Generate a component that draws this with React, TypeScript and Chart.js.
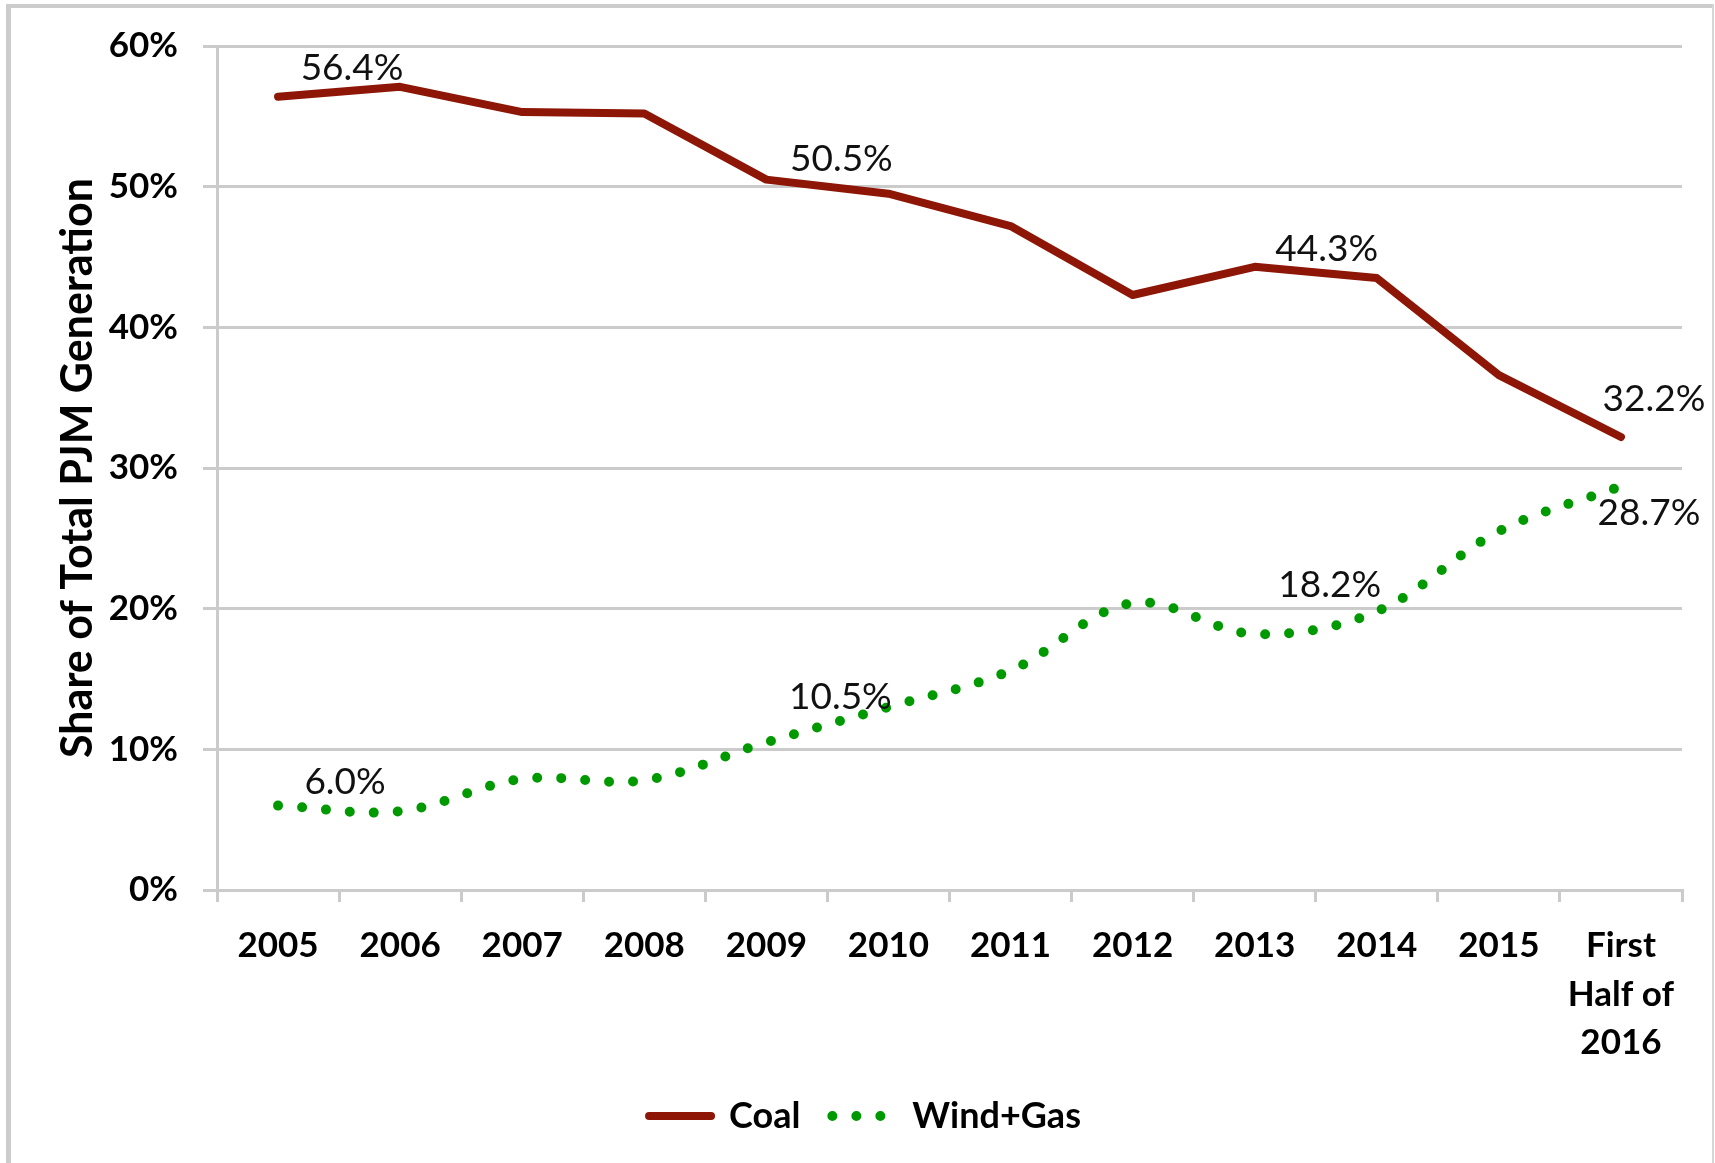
import React, { useEffect, useRef } from 'react';
import { Chart, registerables } from 'chart.js';

Chart.register(...registerables);

// ---- Data ----
const categories: (string | string[])[] = [
  '2005', '2006', '2007', '2008', '2009', '2010', '2011', '2012', '2013', '2014', '2015',
  ['First', 'Half of', '2016'],
];
const coalShare = [56.4, 57.1, 55.3, 55.2, 50.5, 49.5, 47.2, 42.3, 44.3, 43.5, 36.6, 32.2];
const windGasShare = [6.0, 5.6, 7.9, 7.8, 10.5, 13.0, 15.6, 20.4, 18.2, 19.8, 25.5, 28.7];
const yTickValues = [0, 10, 20, 30, 40, 50, 60];
const seriesNames = ['Coal', 'Wind+Gas'];
const axisTitle = 'Share of Total PJM Generation';

// ---- Styles ----
const FONT = 'Lato, "Open Sans", sans-serif';
const GRID = '#cbcbcb';
const COAL = '#8e1606';
const GREEN = '#009a00';

// label placement (pixel offsets from the point), per dataset
const labelPlacement = [
  [
    { i: 0, dx: 74, dy: -29 },
    { i: 4, dx: 75, dy: -21 },
    { i: 8, dx: 72, dy: -18 },
    { i: 11, dx: 33, dy: -38 },
  ],
  [
    { i: 0, dx: 67, dy: -24 },
    { i: 4, dx: 74, dy: -45 },
    { i: 8, dx: 75, dy: -49 },
    { i: 11, dx: 28, dy: 27 },
  ],
];

const framePlugin = {
  id: 'frame',
  beforeDraw(chart: any) {
    const { ctx, width, height } = chart;
    ctx.save();
    ctx.fillStyle = '#ffffff';
    ctx.fillRect(0, 0, width, height);
    ctx.fillStyle = '#cccccc';
    ctx.fillRect(6, 4, 5, height - 4);
    ctx.fillRect(6, 4, width - 7, 4);
    ctx.fillStyle = '#d6d6d6';
    ctx.fillRect(width - 3, 4, 2, height - 4);
    ctx.restore();
  },
};

// centre the legend on the whole canvas rather than the padded box
const legendShiftPlugin = {
  id: 'legendShift',
  afterLayout(chart: any) {
    const lg = chart.legend;
    if (lg) {
      lg.left += 24;
      lg.right += 24;
    }
  },
};

const valueLabelPlugin = {
  id: 'valueLabels',
  afterDatasetsDraw(chart: any) {
    const { ctx } = chart;
    ctx.save();
    ctx.font = `normal 37px ${FONT}`;
    ctx.fillStyle = '#111';
    ctx.textAlign = 'center';
    ctx.textBaseline = 'middle';
    chart.data.datasets.forEach((ds: any, di: number) => {
      const meta = chart.getDatasetMeta(di);
      (labelPlacement[di] || []).forEach((p) => {
        const pt = meta.data[p.i];
        if (!pt) return;
        const v = ds.data[p.i] as number;
        ctx.fillText(`${v.toFixed(1)}%`, pt.x + p.dx, pt.y + p.dy);
      });
    });
    ctx.restore();
  },
};

export default function App() {
  const ref = useRef<HTMLCanvasElement>(null);

  useEffect(() => {
    if (!ref.current) return;
    const chart = new Chart(ref.current, {
      type: 'line',
      data: {
        labels: categories as any,
        datasets: [
          {
            label: seriesNames[0],
            data: coalShare,
            borderColor: COAL,
            backgroundColor: COAL,
            borderWidth: 8,
            tension: 0,
            pointRadius: 0,
            borderCapStyle: 'round',
            borderJoinStyle: 'round',
            fill: false,
          },
          {
            label: seriesNames[1],
            data: windGasShare,
            borderColor: GREEN,
            backgroundColor: GREEN,
            borderWidth: 10,
            borderDash: [0, 24],
            borderCapStyle: 'round',
            tension: 0.35,
            pointRadius: 0,
            fill: false,
          },
        ],
      },
      options: {
        responsive: false,
        animation: false,
        devicePixelRatio: 1,
        layout: { padding: { top: 45, right: 33, bottom: 19, left: 0 } },
        plugins: {
          tooltip: { enabled: false },
          legend: {
            position: 'bottom',
            labels: {
              usePointStyle: true,
              pointStyle: 'line',
              pointStyleWidth: 62,
              padding: 32,
              color: '#000',
              font: { family: FONT, size: 36, weight: 'bold' },
              generateLabels: (c: any) =>
                c.data.datasets.map((ds: any, i: number) => ({
                  text: ds.label,
                  strokeStyle: ds.borderColor,
                  fillStyle: ds.borderColor,
                  lineWidth: ds.borderWidth,
                  lineDash: ds.borderDash || [],
                  lineCap: 'round',
                  pointStyle: 'line',
                  fontColor: '#000',
                  hidden: false,
                  datasetIndex: i,
                })),
            },
          },
        },
        scales: {
          x: {
            type: 'category',
            offset: true,
            grid: {
              offset: true,
              drawOnChartArea: false,
              drawTicks: true,
              tickLength: 12,
              color: GRID,
              lineWidth: 3,
            },
            border: { display: true, color: GRID, width: 3 },
            ticks: {
              color: '#000',
              autoSkip: false,
              maxRotation: 0,
              padding: 20,
              font: { family: FONT, size: 35, weight: 'bold', lineHeight: 1.38 },
            },
            afterFit: (s: any) => {
              s.height = 176;
            },
          },
          y: {
            min: 0,
            max: 60,
            afterBuildTicks: (s: any) => {
              s.ticks = yTickValues.map((v) => ({ value: v }));
            },
            ticks: {
              color: '#000',
              padding: 25,
              font: { family: FONT, size: 35, weight: 'bold' },
              callback: (v: any) => `${v}%`,
            },
            grid: { color: GRID, lineWidth: 3, tickLength: 14 },
            border: { display: true, color: GRID, width: 3 },
            title: {
              display: true,
              text: axisTitle,
              color: '#000',
              font: { family: FONT, size: 43, weight: 'bold' },
              padding: { top: 52, bottom: 0 },
            },
            afterFit: (s: any) => {
              s.width = 217;
            },
          },
        },
      },
      plugins: [framePlugin, legendShiftPlugin, valueLabelPlugin],
    });
    return () => chart.destroy();
  }, []);

  return (
    <div style={{ position: 'absolute', left: 0, top: 0, width: 1715, height: 1163, background: '#fff' }}>
      <canvas ref={ref} width={1715} height={1163} style={{ display: 'block' }} />
    </div>
  );
}
